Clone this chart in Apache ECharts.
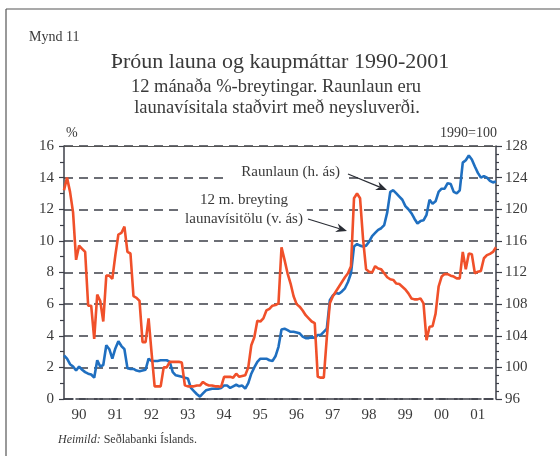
<!DOCTYPE html>
<html><head><meta charset="utf-8">
<script src="https://cdn.jsdelivr.net/npm/echarts/dist/echarts.min.js"></script>
<style>html,body{margin:0;padding:0;background:#fff}#c{width:560px;height:456px}</style>
</head><body><div id="c"></div>
<script>
// ---- data ----
const years = [1990,1991,1992,1993,1994,1995,1996,1997,1998,1999,2000,2001];
const yearLabels = ['90','91','92','93','94','95','96','97','98','99','00','01'];
const leftTicks = [0,2,4,6,8,10,12,14,16];
const rightTicks = [96,100,104,108,112,116,120,124,128];
// 12 m. breyting launavísitölu (v. ás), %
const wageIndexChange = [
 13.2,14.0,13.1,11.8,8.8,9.7,9.5,9.3,5.9,5.9,3.8,6.6,
 6.2,4.9,7.8,7.8,7.6,9.1,10.4,10.5,10.9,9.3,9.2,6.5,
 6.4,6.2,3.6,3.6,5.1,2.9,0.8,0.8,0.8,2.0,2.0,2.35,
 2.35,2.35,2.35,2.3,0.87,0.8,0.8,0.8,0.85,0.85,1.08,0.93,
 0.85,0.85,0.8,0.8,0.76,1.4,1.4,1.4,1.35,1.6,1.4,1.45,
 1.5,2.0,3.4,3.9,4.95,4.9,5.1,5.6,5.7,5.9,5.94,6.05,
 9.6,8.8,7.95,7.3,6.5,6.0,5.84,5.6,5.3,5.1,4.9,4.8,
 1.4,1.35,1.35,3.9,6.05,6.5,6.8,7.1,7.4,7.7,7.95,8.4,
 12.7,13.0,12.7,10.1,8.2,8.05,8.0,8.4,8.25,8.2,7.95,7.7,
 7.57,7.53,7.3,7.27,7.1,6.93,6.68,6.36,6.3,6.3,6.36,6.05,
 3.72,4.57,4.6,5.4,7.1,7.74,7.9,7.9,7.8,7.74,7.63,7.63,
 9.3,8.2,9.2,9.15,7.95,8.05,8.1,8.9,9.1,9.18,9.3,9.6
];
// Raunlaun (h. ás), 1990=100
const realWages = [
 101.5,101.1,100.4,100.1,99.6,100.1,99.7,99.4,99.2,99.1,98.7,100.9,
 100.1,100.3,102.8,102.3,101.1,102.4,103.3,102.7,102.3,99.9,99.8,99.8,
 99.6,99.5,99.6,99.7,101.1,100.8,100.8,100.8,100.9,100.9,100.9,100.7,
 99.4,99.0,98.9,98.8,98.7,98.6,97.4,97.0,96.6,96.3,96.7,97.1,
 97.2,97.3,97.3,97.3,97.4,97.7,97.7,97.4,97.6,97.8,97.6,97.7,
 97.3,98.0,99.2,100.0,100.7,101.1,101.1,101.1,100.9,100.8,101.4,102.6,
 104.8,104.9,104.7,104.5,104.5,104.4,104.3,103.9,103.7,103.7,103.9,103.7,
 104.1,104.1,104.5,104.9,108.5,109.1,109.4,109.3,109.6,110.0,110.8,111.9,
 115.3,115.6,115.4,115.3,115.4,115.9,116.6,117.0,117.4,117.6,118.0,119.6,
 122.2,122.4,122.0,121.6,121.2,120.4,120.0,119.5,118.8,118.2,118.5,118.6,
 119.3,121.2,120.7,121.0,122.2,122.6,122.6,123.3,123.2,122.2,122.0,122.4,
 125.9,126.2,126.8,126.3,125.4,124.6,124.0,124.2,124.0,123.6,123.4,123.5
];
const categories = [];
years.forEach(y => { for (let m = 1; m <= 12; m++) categories.push(y + '-' + (m < 10 ? '0' : '') + m); });

// ---- chart ----
const FONT = '"Liberation Serif", "DejaVu Serif", serif';
const TXT = '#3a3a3a';
const AX = '#3c3f48';
const chart = echarts.init(document.getElementById('c'), null, {renderer: 'canvas'});

function arrow(x1, y1, x2, y2) {
  const dx = x2 - x1, dy = y2 - y1, L = Math.sqrt(dx*dx + dy*dy);
  const ux = dx / L, uy = dy / L, nx = -uy, ny = ux;
  const hl = 11, hw = 4.5;
  return [
    {type: 'line', z: 100, shape: {x1: x1, y1: y1, x2: x2 - ux*hl*0.7, y2: y2 - uy*hl*0.7}, style: {stroke: '#2a2d35', lineWidth: 1.2}},
    {type: 'polygon', z: 100, shape: {points: [[x2, y2], [x2 - ux*hl + nx*hw, y2 - uy*hl + ny*hw], [x2 - ux*hl*0.7, y2 - uy*hl*0.7], [x2 - ux*hl - nx*hw, y2 - uy*hl - ny*hw]]}, style: {fill: '#2a2d35'}}
  ];
}

const gridLeft = 64, gridRight = 64, gridTop = 146, gridBottom = 57;

const option = {
  backgroundColor: '#ffffff',
  animation: false,
  grid: {left: gridLeft, right: gridRight, top: gridTop, bottom: gridBottom, containLabel: false},
  xAxis: [{
    type: 'category', data: categories, boundaryGap: false,
    axisLine: {show: true, lineStyle: {color: AX, width: 1.6, type: [9, 3]}},
    axisTick: {show: false},
    axisLabel: {
      interval: function (i) { return i % 12 === 5; },
      formatter: function (v, i) { return yearLabels[Math.floor(categories.indexOf(v) / 12)]; },
      color: TXT, fontFamily: FONT, fontSize: 15, margin: 9
    },
    splitLine: {show: false}
  }, {
    type: 'category', data: categories, boundaryGap: false, position: 'top',
    axisLine: {show: true, lineStyle: {color: '#555', width: 1.2}},
    axisTick: {show: false}, axisLabel: {show: false}, splitLine: {show: false}
  }],
  yAxis: [{
    type: 'value', min: 0, max: 16, interval: 2, position: 'left',
    axisLine: {show: true, lineStyle: {color: AX, width: 1.5}},
    axisTick: {show: true, inside: false, length: 5, lineStyle: {color: AX, width: 1.2}},
    minorTick: {show: true, splitNumber: 2, length: 4, lineStyle: {color: AX, width: 1.2}},
    axisLabel: {color: TXT, fontFamily: FONT, fontSize: 15, margin: 10},
    splitLine: {show: true, lineStyle: {color: AX, width: 1.6, type: [9, 6]}}
  }, {
    type: 'value', min: 96, max: 128, interval: 4, position: 'right',
    axisLine: {show: true, lineStyle: {color: AX, width: 1.5}},
    axisTick: {show: true, inside: false, length: 6, lineStyle: {color: AX, width: 1.2}},
    minorTick: {show: true, splitNumber: 4, length: 3, lineStyle: {color: AX, width: 1.2}},
    axisLabel: {color: TXT, fontFamily: FONT, fontSize: 15, margin: 9},
    splitLine: {show: false}
  }],
  series: [{
    name: 'Raunlaun (h. ás)', type: 'line', yAxisIndex: 1, data: realWages,
    showSymbol: false, symbol: 'none', smooth: false,
    lineStyle: {color: '#1f6fc0', width: 2.6}, z: 3
  }, {
    name: '12 m. breyting launavísitölu (v. ás)', type: 'line', yAxisIndex: 0, data: wageIndexChange,
    showSymbol: false, symbol: 'none', smooth: false,
    lineStyle: {color: '#f0502a', width: 2.6}, z: 4
  }],
  graphic: [
    {type: 'line', shape: {x1: 6, y1: 9, x2: 560, y2: 9}, style: {stroke: '#555', lineWidth: 1.2}},
    {type: 'line', shape: {x1: 6, y1: 9, x2: 6, y2: 456}, style: {stroke: '#555', lineWidth: 1.2}},
    {type: 'text', left: 29, top: 30, style: {text: 'Mynd 11', font: '14px ' + FONT, fill: TXT}},
    {type: 'text', x: 280, y: 62, style: {text: 'Þróun launa og kaupmáttar 1990-2001', font: '22px ' + FONT, fill: TXT, textAlign: 'center', textVerticalAlign: 'middle'}},
    {type: 'text', x: 276, y: 87, style: {text: '12 mánaða %-breytingar. Raunlaun eru', font: '18.5px ' + FONT, fill: TXT, textAlign: 'center', textVerticalAlign: 'middle'}},
    {type: 'text', x: 277, y: 108, style: {text: 'launavísitala staðvirt með neysluverði.', font: '18.5px ' + FONT, fill: TXT, textAlign: 'center', textVerticalAlign: 'middle'}},
    {type: 'text', x: 66, y: 133, style: {text: '%', font: '14px ' + FONT, fill: TXT, textAlign: 'left', textVerticalAlign: 'middle'}},
    {type: 'text', x: 497, y: 133, style: {text: '1990=100', font: '14px ' + FONT, fill: TXT, textAlign: 'right', textVerticalAlign: 'middle'}},
    {type: 'text', z: 90, x: 346, y: 172, style: {text: 'Raunlaun (h. ás)', font: '15px ' + FONT, fill: TXT, textAlign: 'right', textVerticalAlign: 'middle', backgroundColor: '#ffffff', padding: [3, 6, 4, 14]}},
    {type: 'text', z: 90, x: 244, y: 209.5, style: {text: '12 m. breyting\nlaunavísitölu (v. ás)', font: '15px ' + FONT, lineHeight: 19, fill: TXT, textAlign: 'center', textVerticalAlign: 'middle', backgroundColor: '#ffffff', padding: [3, 4, 3, 4]}},
    {type: 'text', x: 58, y: 440, style: {text: '{i|Heimild:} Seðlabanki Íslands.', rich: {i: {fontStyle: 'italic', fontFamily: FONT, fontSize: 12, fill: TXT}}, font: '12px ' + FONT, fill: TXT, textAlign: 'left', textVerticalAlign: 'middle'}}
  ].concat(arrow(348, 174, 387, 190)).concat(arrow(308, 219, 347, 231))
};
chart.setOption(option);
</script>
</body></html>
